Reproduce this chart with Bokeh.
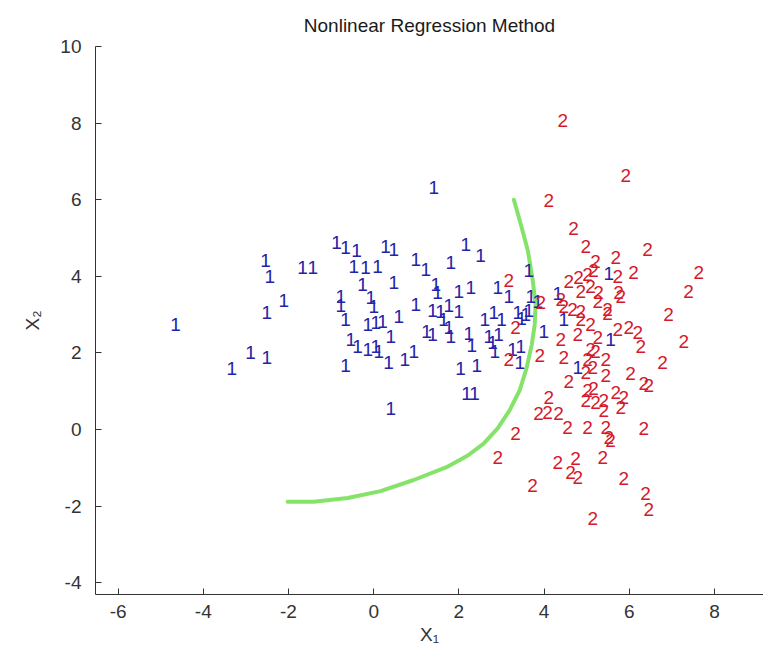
from bokeh.plotting import figure
from bokeh.models import Range1d, FixedTicker, ColumnDataSource
from bokeh.core.properties import value
from bokeh.embed import file_html
from bokeh.resources import INLINE

# ---- data ----
class1_x = [-4.65, -3.33, -2.89, -2.51, -2.51, -2.54, -2.44, -2.11, -1.67, -1.43,
            -0.87, -0.66, -0.77, -0.77, -0.66, -0.66, 1.41, -0.40, 0.28, 0.47,
            -0.47, -0.19, 0.09, 0.99, 1.22, 1.81, 2.16, 2.51, -0.26, 0.47,
            1.46, 1.50, 2.00, 2.28, 2.91, 3.64, -0.07, 0.00, 0.99, 1.38,
            1.57, 1.76, 2.00, 3.17, 3.69, -0.14, 0.05, 0.21, 0.40, 0.59,
            1.24, 1.38, 1.64, 1.76, 1.81, 2.23, 2.61, 2.82, 3.00, 3.38,
            3.47, 3.57, -0.54, -0.38, -0.14, 0.05, 0.12, 0.35, 0.73, 0.94,
            2.30, 2.70, 2.79, 2.93, 2.84, 3.43, 3.26, 3.45, 2.04, 2.42,
            2.18, 2.37, 0.40, 3.85, 3.64, 3.99, 4.32, 4.46, 5.56, 4.79,
            5.52]
class1_y = [2.74, 1.58, 2.00, 1.89, 3.05, 4.42, 4.00, 3.37, 4.24, 4.24,
            4.87, 4.74, 3.47, 3.24, 2.87, 1.68, 6.32, 4.68, 4.79, 4.71,
            4.26, 4.24, 4.26, 4.45, 4.18, 4.37, 4.84, 4.53, 3.79, 3.84,
            3.79, 3.58, 3.61, 3.71, 3.71, 4.16, 3.45, 3.21, 3.26, 3.11,
            3.08, 3.24, 3.08, 3.47, 3.47, 2.74, 2.79, 2.82, 2.42, 2.95,
            2.55, 2.47, 2.87, 2.66, 2.42, 2.50, 2.87, 3.05, 2.87, 3.05,
            2.89, 3.00, 2.34, 2.16, 2.08, 2.16, 2.03, 1.74, 1.82, 2.03,
            2.18, 2.42, 2.26, 2.47, 2.03, 1.76, 2.08, 2.16, 1.58, 1.66,
            0.95, 0.95, 0.55, 3.34, 3.11, 2.55, 3.55, 2.87, 2.34, 1.63,
            4.08]

class2_x = [4.44, 5.92, 4.11, 4.69, 4.98, 5.21, 5.68, 6.43, 6.10, 7.63,
            3.17, 4.58, 4.81, 5.02, 5.16, 5.73, 4.86, 5.09, 5.28, 5.75,
            5.80, 7.39, 3.92, 4.39, 4.46, 4.67, 4.86, 5.26, 5.49, 5.49,
            6.92, 3.33, 4.86, 5.09, 4.79, 5.26, 5.73, 5.99, 6.20, 6.27,
            7.28, 4.39, 3.90, 3.17, 4.46, 5.09, 5.21, 5.02, 5.45, 6.78,
            4.58, 4.98, 5.14, 5.45, 6.03, 6.34, 6.46, 5.02, 5.16, 4.98,
            5.21, 5.68, 5.87, 5.80, 5.40, 5.40, 4.11, 3.87, 4.08, 4.34,
            4.55, 5.02, 5.45, 5.52, 5.56, 6.34, 3.33, 2.91, 4.32, 4.74,
            4.62, 4.79, 5.38, 3.73, 5.87, 6.38, 6.46, 5.14]
class2_y = [8.08, 6.63, 5.97, 5.24, 4.79, 4.39, 4.50, 4.71, 4.11, 4.11,
            3.89, 3.87, 3.97, 4.05, 4.16, 4.00, 3.61, 3.74, 3.58, 3.58,
            3.47, 3.61, 3.32, 3.39, 3.21, 3.13, 3.08, 3.34, 3.13, 3.03,
            3.00, 2.66, 2.87, 2.74, 2.47, 2.39, 2.61, 2.66, 2.53, 2.16,
            2.29, 2.34, 1.92, 1.82, 1.87, 2.08, 2.03, 1.82, 1.82, 1.76,
            1.24, 1.50, 1.61, 1.42, 1.47, 1.21, 1.16, 1.03, 1.08, 0.76,
            0.71, 0.97, 0.84, 0.58, 0.76, 0.50, 0.84, 0.42, 0.45, 0.42,
            0.05, 0.05, 0.05, -0.21, -0.29, 0.03, -0.11, -0.74, -0.87, -0.76,
            -1.13, -1.26, -0.74, -1.47, -1.29, -1.66, -2.08, -2.32]

boundary_x = [3.29, 3.45, 3.62, 3.73, 3.80, 3.78, 3.71, 3.59, 3.43, 3.19,
              2.91, 2.58, 2.21, 1.74, 0.94, 0.16, -0.61, -1.41, -2.02]
boundary_y = [6.00, 5.37, 4.66, 3.92, 3.26, 2.74, 2.21, 1.61, 1.03, 0.50,
              0.03, -0.37, -0.68, -0.97, -1.32, -1.61, -1.79, -1.89, -1.89]

x_ticks = [-6, -4, -2, 0, 2, 4, 6, 8]
y_ticks = [-4, -2, 0, 2, 4, 6, 8, 10]

FONT = "Liberation Sans"

p = figure(width=763, height=647, output_backend="svg", toolbar_location=None,
           x_range=Range1d(-6.53, 9.15), y_range=Range1d(-4.31, 10.0),
           min_border_left=95, min_border_right=0, min_border_top=46,
           min_border_bottom=53, title="Nonlinear Regression Method")

p.title.align = "center"
p.title.text_font = FONT
p.title.text_font_size = "19px"
p.title.text_font_style = "normal"
p.title.text_color = "#1a1a1a"
p.title.standoff = 22

p.outline_line_color = None
p.xgrid.grid_line_color = None
p.ygrid.grid_line_color = None
p.background_fill_color = "white"

for ax, ticks in ((p.xaxis[0], x_ticks), (p.yaxis[0], y_ticks)):
    ax.ticker = FixedTicker(ticks=ticks)
    ax.major_label_overrides = {t: str(t) for t in ticks}
    ax.major_tick_in = 6
    ax.major_tick_out = 0
    ax.minor_tick_line_color = None
    ax.axis_line_color = "#333333"
    ax.major_tick_line_color = "#333333"
    ax.major_label_text_font = FONT
    ax.major_label_text_font_size = "19px"
    ax.major_label_text_color = "#333333"
    ax.axis_label_text_font = FONT
    ax.axis_label_text_font_size = "19px"
    ax.axis_label_text_font_style = "normal"
    ax.axis_label_text_color = "#333333"

p.xaxis.axis_label = "X\u2081"
p.yaxis.axis_label = "X\u2082"
p.xaxis.major_label_standoff = 10
p.yaxis.major_label_standoff = 14
p.xaxis.axis_label_standoff = 3
p.yaxis.axis_label_standoff = 14

p.line(boundary_x, boundary_y, line_color="#86e36a", line_width=4,
       line_join="round", line_cap="round")

s1 = ColumnDataSource(dict(x=class1_x, y=class1_y, t=["1"] * len(class1_x)))
s2 = ColumnDataSource(dict(x=class2_x, y=class2_y, t=["2"] * len(class2_x)))
p.text(x="x", y="y", text="t", source=s1, text_font=value(FONT), text_font_size="19px",
       text_align="center", text_baseline="middle", text_color="#2323a8")
p.text(x="x", y="y", text="t", source=s2, text_font=value(FONT), text_font_size="19px",
       text_align="center", text_baseline="middle", text_color="#d4192b")

open("out.html", "w").write(file_html(p, INLINE))
